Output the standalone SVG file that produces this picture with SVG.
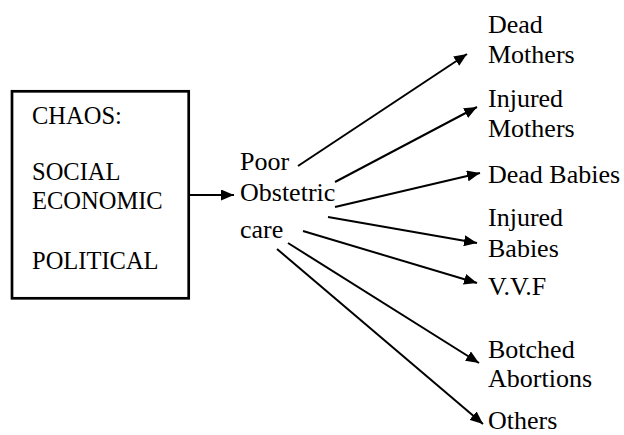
<svg xmlns="http://www.w3.org/2000/svg" width="624" height="435" viewBox="0 0 624 435">
  <style>
    text { font-family: "Liberation Serif", "Times New Roman", serif; fill: #000; }
    .box-text { font-size: 24.5px; }
    .lbl { font-size: 26px; }
    .conn { stroke: #000; stroke-width: 2; fill: none; marker-end: url(#arrow); }
  </style>
  <defs>
    <marker id="arrow" viewBox="0 0 13 11" refX="13" refY="5.5" markerWidth="13" markerHeight="11" markerUnits="userSpaceOnUse" orient="auto">
      <path d="M0,0 L13,5.5 L0,11 z" fill="#000"/>
    </marker>
  </defs>
  <rect width="624" height="435" fill="#fff"/>

  <g id="chaos">
    <rect x="12" y="91.3" width="176.7" height="207" fill="#fff" stroke="#000" stroke-width="2.7"/>
    <text class="box-text" x="32" y="124">CHAOS:</text>
    <text class="box-text" x="32" y="180">SOCIAL</text>
    <text class="box-text" x="32" y="209">ECONOMIC</text>
    <text class="box-text" x="32" y="269">POLITICAL</text>
  </g>

  <g id="poor-care">
    <text class="lbl" x="240" y="170">Poor</text>
    <text class="lbl" x="240" y="201">Obstetric</text>
    <text class="lbl" x="240" y="238">care</text>
  </g>

  <g id="dead-mothers">
    <text class="lbl" x="488" y="33">Dead</text>
    <text class="lbl" x="488" y="63">Mothers</text>
  </g>
  <g id="injured-mothers">
    <text class="lbl" x="488" y="107">Injured</text>
    <text class="lbl" x="488" y="137">Mothers</text>
  </g>
  <g id="dead-babies">
    <text class="lbl" x="488" y="183">Dead Babies</text>
  </g>
  <g id="injured-babies">
    <text class="lbl" x="488" y="226">Injured</text>
    <text class="lbl" x="488" y="257">Babies</text>
  </g>
  <g id="vvf">
    <text class="lbl" x="488" y="295">V.V.F</text>
  </g>
  <g id="botched-abortions">
    <text class="lbl" x="488" y="358">Botched</text>
    <text class="lbl" x="488" y="387">Abortions</text>
  </g>
  <g id="others">
    <text class="lbl" x="488" y="429">Others</text>
  </g>

  <g id="connectors">
    <line class="conn" x1="190" y1="195" x2="234" y2="195"/>
    <line class="conn" x1="298" y1="166" x2="467" y2="54"/>
    <line class="conn" x1="335" y1="182" x2="477" y2="107"/>
    <line class="conn" x1="335" y1="207" x2="480" y2="173"/>
    <line class="conn" x1="328" y1="217" x2="477" y2="243"/>
    <line class="conn" x1="303" y1="231" x2="477" y2="283"/>
    <line class="conn" x1="288" y1="243" x2="479" y2="363"/>
    <line class="conn" x1="277" y1="249" x2="483" y2="424"/>
  </g>
</svg>
